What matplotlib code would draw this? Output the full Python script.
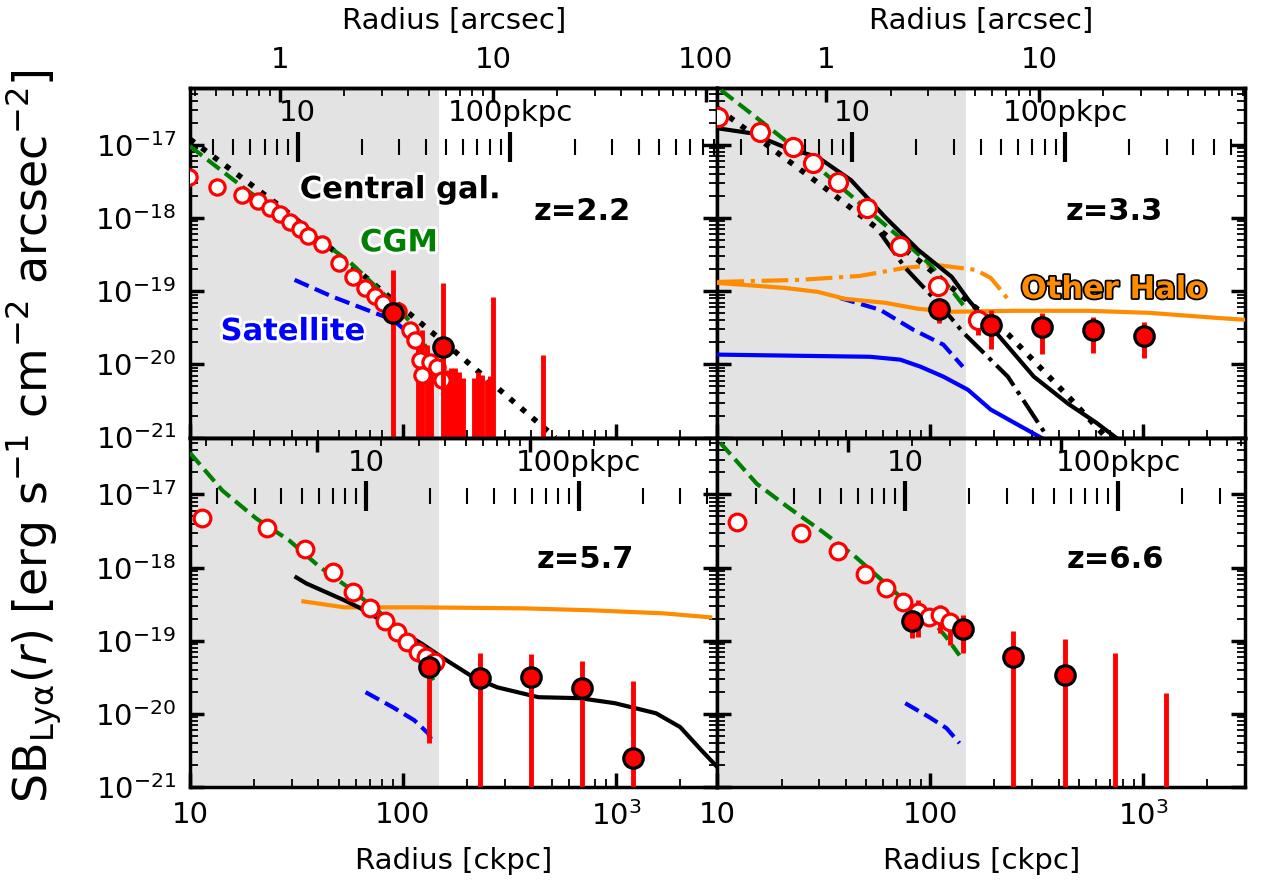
import numpy as np
import matplotlib.pyplot as plt
import matplotlib.ticker as ticker
import matplotlib.patheffects as pe

# ---------------- z = 2.2 ----------------
r22_open = [9.9, 13.4, 17.6, 20.9, 23.8, 26.6, 29.6, 32.7, 36.0, 41.5, 49.9, 58.1, 66.2,
            73.8, 80.5, 94.7, 108, 114, 120, 123, 134, 145, 153]
sb22_open = [3.6e-18, 2.65e-18, 2.07e-18, 1.71e-18, 1.37e-18, 1.14e-18, 8.85e-19, 7.1e-19,
             5.7e-19, 4.44e-19, 2.44e-19, 1.57e-19, 1.11e-19, 8.65e-20, 6.95e-20, 5.4e-20,
             2.97e-20, 2.17e-20, 1.16e-20, 7.2e-21, 1.09e-20, 9.3e-21, 6.2e-21]
r22_fill = [89.8, 154.5]
sb22_fill = [5.07e-20, 1.74e-20]
sb22_fill_lo = [1e-23, 1e-23]
sb22_fill_hi = [1.96e-19, 1.3e-19]
r22_lim = [118, 123, 130, 136, 161, 168, 176, 184, 192, 216, 226, 236, 247, 257, 266, 457]
sb22_lim = [2.17e-20, 2.97e-20, 1.86e-20, 1.16e-20, 8.5e-21, 9.0e-21, 9.0e-21, 7.9e-21,
            6.6e-21, 6.6e-21, 7.9e-21, 7.2e-21, 6.2e-21, 7.0e-21, 8.4e-20, 1.36e-20]
cgm22_r = [10, 19.0, 32.7, 56.2, 86.9, 108, 131]
cgm22_sb = [9.6e-18, 2.27e-18, 8.05e-19, 2.52e-19, 7.6e-20, 3.83e-20, 1.58e-20]
cen22_r = [10, 27.2, 176, 520]
cen22_sb = [1.2e-17, 1.37e-18, 1.49e-20, 1.0e-21]
sat22_r = [31.0, 46.8, 67.6, 89.8, 111, 134]
sat22_sb = [1.43e-19, 8.4e-20, 5.57e-20, 4.07e-20, 2.39e-20, 1.27e-20]

# ---------------- z = 3.3 ----------------
r33_open = [10.1, 15.8, 22.6, 28.1, 36.8, 50.4, 72.2, 108, 167]
sb33_open = [2.4e-17, 1.5e-17, 9.3e-18, 5.65e-18, 3.1e-18, 1.37e-18, 4.16e-19, 1.19e-19, 4.07e-20]
sb33_open_lo = [2.4e-17, 1.5e-17, 9.3e-18, 5.65e-18, 3.1e-18, 1.37e-18, 4.16e-19, 1.19e-19, 2.54e-20]
sb33_open_hi = [2.4e-17, 1.5e-17, 9.3e-18, 5.65e-18, 3.1e-18, 1.37e-18, 4.16e-19, 1.19e-19, 5.1e-20]
r33_fill = [110, 192, 334, 581, 1012]
sb33_fill = [5.75e-20, 3.48e-20, 3.27e-20, 2.97e-20, 2.47e-20]
sb33_fill_lo = [3.7e-20, 1.64e-20, 1.4e-20, 1.45e-20, 1.23e-20]
sb33_fill_hi = [7.2e-20, 5.57e-20, 5.1e-20, 4.48e-20, 3.83e-20]
tot33_r = [10, 14.3, 20.7, 29.6, 42.4, 61.3, 87.7, 126, 151, 198, 306, 443, 600, 760]
tot33_sb = [1.69e-17, 1.45e-17, 9.3e-18, 6.8e-18, 3.3e-18, 1.03e-18, 3.67e-19, 1.57e-19,
            7.6e-20, 2.97e-20, 6.8e-21, 2.9e-21, 1.6e-21, 9.5e-22]
cen33_r = [10, 33.0, 89.8, 233, 468, 669]
cen33_sb = [3.18e-17, 2.41e-18, 2.52e-19, 2.54e-20, 3.1e-21, 1.0e-21]
dd33_r = [58.1, 76.2, 111, 143, 231, 341]
dd33_sb = [6.27e-19, 2.09e-19, 6.5e-20, 2.7e-20, 6.8e-21, 1.21e-21]
cgm33_r = [10.4, 15.8, 24.4, 42.0, 72.2, 100, 131, 146]
cgm33_sb = [5.6e-17, 2.18e-17, 7.98e-18, 2.07e-18, 5.35e-19, 2.29e-19, 8.9e-20, 5.9e-20]
ohdd33_r = [10, 24.4, 46.8, 76.2, 106, 163, 192, 214, 238]
ohdd33_sb = [1.34e-19, 1.43e-19, 1.62e-19, 2.09e-19, 2.29e-19, 1.96e-19, 1.52e-19, 1.04e-19, 6.95e-20]
oh33_r = [10, 20.7, 29.6, 39.7, 61.3, 87.7, 126, 247, 551, 1057, 2163, 3000]
oh33_sb = [1.3e-19, 1.11e-19, 9.8e-20, 7.87e-20, 6.95e-20, 5.75e-20, 5.24e-20, 5.4e-20,
           5.4e-20, 5.07e-20, 4.34e-20, 4.07e-20]
sat33_r = [37.6, 58.1, 83.2, 115, 142]
sat33_sb = [8.1e-20, 5.57e-20, 2.97e-20, 1.86e-20, 9.3e-21]
satall33_r = [10, 24.4, 52.1, 72.2, 89.8, 115, 150, 192, 247, 330]
satall33_sb = [1.36e-20, 1.31e-20, 1.27e-20, 1.16e-20, 9.3e-21, 6.8e-21, 4.5e-21, 2.41e-21, 1.6e-21, 1.0e-21]

# ---------------- z = 5.7 ----------------
r57_open = [11.4, 23.1, 34.8, 46.8, 58.1, 69.9, 82.2, 93.7, 104, 118, 128, 142]
sb57_open = [4.8e-18, 3.52e-18, 1.82e-18, 8.57e-19, 4.57e-19, 2.77e-19, 1.84e-19, 1.3e-19,
             9.5e-20, 6.95e-20, 5.9e-20, 5.07e-20]
r57_fill = [133, 231, 401, 692, 1203]
sb57_fill = [4.34e-20, 3.07e-20, 3.17e-20, 2.24e-20, 2.49e-21]
sb57_fill_lo = [3.98e-21, 1e-23, 1e-23, 1e-23, 1e-23]
sb57_fill_hi = [6.3e-20, 6.7e-20, 6.5e-20, 5.24e-20, 2.79e-20]
cgm57_r = [10, 14.2, 20.5, 29.3, 40.5, 56.2, 77.9, 108, 139]
cgm57_sb = [3.7e-17, 1.13e-17, 4.68e-18, 2.34e-18, 1.03e-18, 5.19e-19, 2.44e-19, 1.08e-19, 2.88e-20]
tot57_r = [31.6, 35.2, 53.2, 62.0, 122, 153, 214, 277, 433, 677, 989, 1544, 2005, 2518, 3025]
tot57_sb = [7.33e-19, 6.07e-19, 3.56e-19, 2.86e-19, 9.2e-20, 5.9e-20, 3.17e-20, 2.31e-20,
            1.69e-20, 1.64e-20, 1.4e-20, 1.02e-20, 6.6e-21, 3.2e-21, 1.82e-21]
oh57_r = [34.1, 53.2, 122, 372, 787, 1667, 2773]
oh57_sb = [3.45e-19, 2.86e-19, 2.86e-19, 2.77e-19, 2.6e-19, 2.37e-19, 2.09e-19]
sat57_r = [66.8, 89.8, 113, 131, 139]
sat57_sb = [1.98e-20, 1.23e-20, 8.2e-21, 5.46e-21, 3.98e-21]

# ---------------- z = 6.6 ----------------
r66_open = [12.3, 24.7, 36.8, 49.3, 62.0, 74.6, 87.7, 98.9, 111, 124]
sb66_open = [4.26e-18, 3.01e-18, 1.71e-18, 8.3e-19, 5.19e-19, 3.34e-19, 2.44e-19, 2.09e-19,
             2.22e-19, 1.78e-19]
sb66_open_lo = [4.26e-18, 3.01e-18, 1.71e-18, 8.3e-19, 5.19e-19, 3.34e-19, 1.11e-19, 2.09e-19,
                1.26e-19, 8.65e-20]
sb66_open_hi = [4.26e-18, 3.01e-18, 1.71e-18, 8.3e-19, 5.19e-19, 3.34e-19, 3.56e-19, 2.09e-19,
                3.04e-19, 2.09e-19]
r66_fill = [82.2, 142, 244, 428]
sb66_fill = [1.84e-19, 1.43e-19, 5.9e-20, 3.37e-20]
sb66_fill_lo = [1.08e-19, 6.7e-20, 1e-23, 1e-23]
sb66_fill_hi = [2.6e-19, 2.22e-19, 1.34e-19, 1.04e-19]
r66_lim = [738, 1282]
sb66_lim = [6.7e-20, 1.91e-20]
cgm66_r = [10.3, 15.3, 21.6, 30.6, 43.8, 59.4, 75.4, 98.9, 119, 137]
cgm66_sb = [5.09e-17, 1.4e-17, 6.6e-18, 3.21e-18, 1.46e-18, 6.67e-19, 3.56e-19, 2.09e-19,
            1.11e-19, 6.3e-20]
sat66_r = [76.2, 98.9, 119, 137]
sat66_sb = [1.4e-20, 9.0e-21, 6.38e-21, 3.98e-21]

# ckpc per arcsec for each redshift
redshifts = [2.2, 3.3, 5.7, 6.6]
ckpc_per_arcsec = [26.5, 32.5, 39.5, 41.0]

XMIN, XMAX = 10, 3000
decades = [0.01, 0.1, 1, 10, 100, 1000, 1e4]


def open_pts(ax, r, sb, lo=None, hi=None, ms=12):
    r = np.array(r); sb = np.array(sb)
    if lo is not None:
        yerr = [sb - np.array(lo), np.array(hi) - sb]
        ax.errorbar(r, sb, yerr=yerr, fmt='none', ecolor='red', elinewidth=3.5, zorder=4)
    ax.plot(r, sb, 'o', mfc='white', mec='red', mew=2.3, ms=ms, zorder=5)


def fill_pts(ax, r, sb, lo, hi):
    r = np.array(r); sb = np.array(sb)
    yerr = [sb - np.array(lo), np.array(hi) - sb]
    ax.errorbar(r, sb, yerr=yerr, fmt='o', mfc='red', mec='black', mew=2.3, ms=14,
                ecolor='red', elinewidth=3.5, capsize=0, zorder=6)


fig, axes = plt.subplots(2, 2, figsize=(12.63, 8.89), dpi=100)
fig.subplots_adjust(left=0.1504, right=0.9857, bottom=0.1147, top=0.901, wspace=0, hspace=0)

lw = 3
for i, ax in enumerate(axes.flat):
    z = redshifts[i]
    s = ckpc_per_arcsec[i]
    top_row = i < 2
    left_col = i % 2 == 0

    ax.set_xscale('log')
    ax.set_yscale('log')
    ax.set_xlim(XMIN, XMAX)
    ax.set_ylim(1e-21, 6e-17)
    ax.axvspan(10, 147, color='#e3e3e3', lw=0, zorder=0)

    ax.xaxis.set_major_locator(ticker.FixedLocator([10, 100, 1000]))
    ax.xaxis.set_major_formatter(ticker.FuncFormatter(
        lambda v, p: {10: '10', 100: '100', 1000: '$10^3$'}.get(int(round(v)), '')))
    ax.xaxis.set_minor_formatter(ticker.NullFormatter())
    ax.yaxis.set_major_locator(ticker.FixedLocator([1e-21, 1e-20, 1e-19, 1e-18, 1e-17]))
    ax.yaxis.set_major_formatter(ticker.LogFormatterSciNotation())
    ax.yaxis.set_minor_formatter(ticker.NullFormatter())
    ax.tick_params(which='both', direction='in', top=False, right=True, labelsize=21)
    ax.tick_params(which='major', length=10, width=2.5, pad=10)
    ax.tick_params(which='minor', length=6, width=1.3)
    for sp in ax.spines.values():
        sp.set_linewidth(2.5)
    if top_row:
        ax.tick_params(labelbottom=False)
    else:
        ax.set_xlabel('Radius [ckpc]', fontsize=21, labelpad=12)
    if not left_col:
        ax.tick_params(labelleft=False)

    # arcsec axis on top spine
    sec = ax.secondary_xaxis('top', functions=(lambda x, s=s: x / s, lambda x, s=s: x * s))
    sec.xaxis.set_major_locator(ticker.FixedLocator(
        [v for v in decades if XMIN <= v * s <= XMAX]))
    sec.xaxis.set_major_formatter(ticker.FuncFormatter(lambda v, p: f'{v:g}'))
    sec.xaxis.set_minor_formatter(ticker.NullFormatter())
    sec.tick_params(which='both', direction='in', labelsize=21)
    sec.tick_params(which='major', length=10, width=2.5, pad=10)
    sec.tick_params(which='minor', length=6, width=1.3)
    sec.spines['top'].set_linewidth(2.5)
    if top_row:
        sec.set_xlabel('Radius [arcsec]', fontsize=21, labelpad=12)
    else:
        sec.tick_params(labeltop=False)

    # physical kpc axis inside the panel
    pk = ax.secondary_xaxis(0.832, functions=(lambda x, z=z: x / (1 + z),
                                              lambda x, z=z: x * (1 + z)))
    pk.spines['top'].set_visible(False)
    pk.xaxis.set_major_locator(ticker.FixedLocator(
        [v for v in decades if XMIN <= v * (1 + z) <= XMAX]))
    pk.xaxis.set_major_formatter(ticker.FuncFormatter(
        lambda v, p: '100pkpc' if int(round(v)) == 100 else f'{v:g}'))
    pk.xaxis.set_minor_formatter(ticker.NullFormatter())
    pk.tick_params(which='major', direction='inout', length=22, width=3, labelsize=21, pad=3)
    pk.tick_params(which='minor', direction='inout', length=11, width=1.5)

ax1, ax2, ax3, ax4 = axes.flat
white = [pe.withStroke(linewidth=4, foreground='white')]
tkw = dict(fontsize=22, fontweight='bold', ha='center', va='center')

# z = 2.2
ax1.plot(cen22_r, cen22_sb, ':', color='black', lw=4, zorder=3)
ax1.plot(cgm22_r, cgm22_sb, '--', color='green', lw=lw, zorder=3)
ax1.plot(sat22_r, sat22_sb, '--', color='blue', lw=lw, zorder=3)
ax1.vlines(r22_lim, 1e-23, sb22_lim, color='red', lw=3.5, zorder=4)
open_pts(ax1, r22_open, sb22_open, ms=11)
fill_pts(ax1, r22_fill, sb22_fill, sb22_fill_lo, sb22_fill_hi)
ax1.text(0.398, 0.709, 'Central gal.', transform=ax1.transAxes, color='black',
         path_effects=white, **tkw)
ax1.text(0.396, 0.557, 'CGM', transform=ax1.transAxes, color='green', path_effects=white, **tkw)
ax1.text(0.195, 0.303, 'Satellite', transform=ax1.transAxes, color='blue',
         path_effects=white, **tkw)
ax1.text(0.744, 0.646, 'z=2.2', transform=ax1.transAxes, **tkw)

# z = 3.3
ax2.plot(satall33_r, satall33_sb, '-', color='blue', lw=lw, zorder=3)
ax2.plot(sat33_r, sat33_sb, '--', color='blue', lw=lw, zorder=3)
ax2.plot(oh33_r, oh33_sb, '-', color='darkorange', lw=lw, zorder=3)
ax2.plot(ohdd33_r, ohdd33_sb, '-.', color='darkorange', lw=lw, zorder=3)
ax2.plot(cgm33_r, cgm33_sb, '--', color='green', lw=lw, zorder=3)
ax2.plot(cen33_r, cen33_sb, ':', color='black', lw=4, zorder=3)
ax2.plot(dd33_r, dd33_sb, '-.', color='black', lw=lw, zorder=3)
ax2.plot(tot33_r, tot33_sb, '-', color='black', lw=lw, zorder=3)
open_pts(ax2, r33_open, sb33_open, sb33_open_lo, sb33_open_hi, ms=13)
fill_pts(ax2, r33_fill, sb33_fill, sb33_fill_lo, sb33_fill_hi)
ax2.text(0.751, 0.423, 'Other Halo', transform=ax2.transAxes, color='darkorange',
         path_effects=[pe.withStroke(linewidth=2.5, foreground='black')], **tkw)
ax2.text(0.753, 0.646, 'z=3.3', transform=ax2.transAxes, **tkw)

# z = 5.7
ax3.plot(cgm57_r, cgm57_sb, '--', color='green', lw=lw, zorder=3)
ax3.plot(oh57_r, oh57_sb, '-', color='darkorange', lw=lw, zorder=3)
ax3.plot(tot57_r, tot57_sb, '-', color='black', lw=lw, zorder=3)
ax3.plot(sat57_r, sat57_sb, '--', color='blue', lw=lw, zorder=3)
open_pts(ax3, r57_open, sb57_open, ms=12)
fill_pts(ax3, r57_fill, sb57_fill, sb57_fill_lo, sb57_fill_hi)
ax3.text(0.75, 0.651, 'z=5.7', transform=ax3.transAxes, **tkw)

# z = 6.6
ax4.plot(cgm66_r, cgm66_sb, '--', color='green', lw=lw, zorder=3)
ax4.plot(sat66_r, sat66_sb, '--', color='blue', lw=lw, zorder=3)
ax4.vlines(r66_lim, 1e-23, sb66_lim, color='red', lw=3.5, zorder=4)
open_pts(ax4, r66_open, sb66_open, sb66_open_lo, sb66_open_hi, ms=12)
fill_pts(ax4, r66_fill, sb66_fill, sb66_fill_lo, sb66_fill_hi)
ax4.text(0.755, 0.651, 'z=6.6', transform=ax4.transAxes, **tkw)

fig.text(0.027, 0.51, r'SB$_{\rm Ly\alpha}(r)$ [erg s$^{-1}$ cm$^{-2}$ arcsec$^{-2}$]',
         rotation=90, va='center', ha='center', fontsize=33)

plt.savefig('out.png', dpi=100)
